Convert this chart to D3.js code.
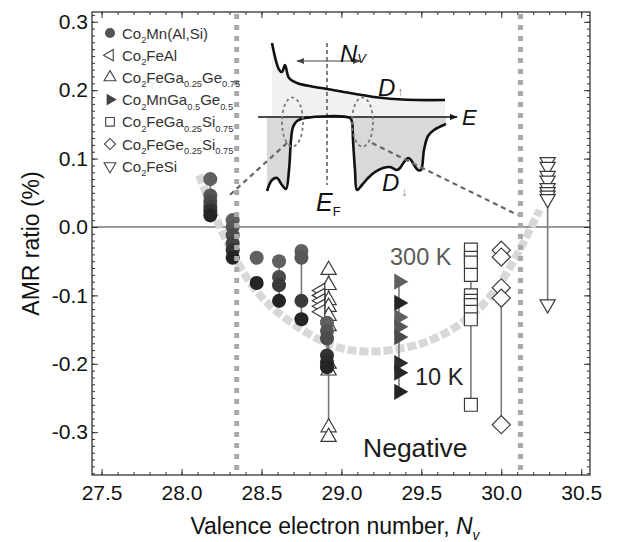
<!DOCTYPE html>
<html lang="en">
<head>
<meta charset="UTF-8">
<title>AMR ratio vs valence electron number</title>
<style>
  body { margin: 0; background: #fff; }
  svg { display: block; font-family: "Liberation Sans", Arial, sans-serif; }
</style>
</head>
<body>
<div id="chart"></div>
<script src="https://d3js.org/d3.v7.min.js"></script>
<script>
// ---- values ----
const xTicks = [27.5, 28.0, 28.5, 29.0, 29.5, 30.0, 30.5];
const yTicks = [-0.3, -0.2, -0.1, 0.0, 0.1, 0.2, 0.3];

const legendLabels = [
  "Co_{2}Mn(Al,Si)", "Co_{2}FeAl", "Co_{2}FeGa_{0.25}Ge_{0.75}", "Co_{2}MnGa_{0.5}Ge_{0.5}",
  "Co_{2}FeGa_{0.25}Si_{0.75}", "Co_{2}FeGe_{0.25}Si_{0.75}", "Co_{2}FeSi"
];

// Co2Mn(Al,Si): one column per sample, 300 K at top -> 10 K at bottom
const cmasX = [28.18, 28.32, 28.47, 28.47, 28.61, 28.75, 28.91];
const cmasAMR = [
  [0.07, 0.046, 0.038, 0.03, 0.024, 0.017],
  [0.01, 0.0, -0.012, -0.024, -0.034, -0.045],
  [-0.045],
  [-0.082],
  [-0.05, -0.073, -0.085, -0.108],
  [-0.035, -0.045, -0.108, -0.135],
  [-0.14, -0.152, -0.163, -0.188, -0.198, -0.205]
];
const cmasT = [
  [300, 250, 200, 150, 80, 10],
  [300, 250, 200, 150, 80, 10],
  [300],
  [10],
  [300, 200, 120, 10],
  [300, 250, 120, 10],
  [300, 250, 200, 80, 40, 10]
];

// Co2FeAl
const cfaX = [28.87];
const cfaAMR = [[-0.093, -0.1, -0.108, -0.116, -0.124]];

// Co2FeGa0.25Ge0.75
const cfggX = [28.92];
const cfggAMR = [[-0.063, -0.085, -0.107, -0.117, -0.13, -0.145, -0.2, -0.21, -0.293, -0.307]];

// Co2MnGa0.5Ge0.5
const cmggX = [29.36];
const cmggAMR = [[-0.08, -0.111, -0.132, -0.146, -0.161, -0.199, -0.213, -0.241]];
const cmggT = [[300, 10, 300, 250, 200, 50, 30, 10]];

// Co2FeGa0.25Si0.75
const cfgsX = [29.81];
const cfgsAMR = [[-0.033, -0.045, -0.052, -0.07, -0.1, -0.108, -0.114, -0.124, -0.135, -0.26]];

// Co2FeGe0.25Si0.75
const cfgesX = [30.0, 30.0];
const cfgesAMR = [[-0.034, -0.044], [-0.089, -0.104, -0.289]];

// Co2FeSi
const cfsX = [30.29];
const cfsAMR = [[0.095, 0.088, 0.075, 0.068, 0.057, 0.051, 0.046, 0.041, -0.113]];

// half-metal window boundaries and guide curve
const boundaryNv = [28.345, 30.12];
const guideNv  = [28.11, 28.27, 28.45, 28.63, 28.93, 29.15, 29.43, 29.61, 29.8, 29.97, 30.1, 30.24];
const guideAMR = [0.076, -0.015, -0.088, -0.13, -0.172, -0.182, -0.175, -0.16, -0.132, -0.09, -0.04, 0.025];

// inset: schematic density of states (energy relative to E_F, arbitrary units)
const upE = [-1.10, -0.96, -0.9, -0.84, -0.76, -0.6, -0.3, 0.0, 0.46, 1.12, 1.8, 2.36];
const upD = [2.96, 1.9, 1.8, 2.08, 1.56, 1.36, 1.22, 1.12, 0.96, 0.76, 0.68, 0.68];
const downE = [-1.2, -1.1, -1.0, -0.9, -0.82, -0.76, -0.72, -0.68, -0.6, -0.44, 0.46, 0.5, 0.52, 0.56, 0.6,
  0.7, 0.82, 0.96, 1.12, 1.26, 1.4, 1.46, 1.54, 1.62, 1.68, 1.74, 1.82, 1.88, 1.94, 2.02, 2.14, 2.38];
const downD = [-2.96, -2.52, -2.44, -2.72, -2.88, -2.12, -0.92, -0.4, -0.16, -0.04, -0.04, -0.2, -0.92, -2.12, -2.92,
  -2.72, -2.44, -2.2, -2.04, -2.0, -2.12, -2.04, -1.8, -1.64, -1.72, -1.92, -2.12, -2.12, -1.32, -0.76, -0.52, -0.28];

// ---- drawing ----
const W = 618, H = 542;
const plot = {left: 92, right: 590, top: 12, bottom: 475};

const svg = d3.select("#chart").append("svg").attr("width", W).attr("height", H);

const x = d3.scaleLinear().domain([27.44, 30.555]).range([plot.left, plot.right]);
const y = d3.scaleLinear().domain([-0.3626, 0.3143]).range([plot.bottom, plot.top]);
const shade = d3.scaleLinear().domain([10, 300]).range(["#242424", "#606060"]);

const defs = svg.append("defs");
defs.append("marker").attr("id", "arrowK")
  .attr("viewBox", "0 0 10 10").attr("refX", 9).attr("refY", 5)
  .attr("markerWidth", 6).attr("markerHeight", 6).attr("orient", "auto-start-reverse")
  .append("path").attr("d", "M0,1 L10,5 L0,9 Z").attr("fill", "#111");
defs.append("marker").attr("id", "arrowG")
  .attr("viewBox", "0 0 10 10").attr("refX", 9).attr("refY", 5)
  .attr("markerWidth", 7).attr("markerHeight", 7).attr("orient", "auto-start-reverse")
  .append("path").attr("d", "M0,1 L10,5 L0,9 Z").attr("fill", "#444");

// text with _{sub} parts
function richText(sel, str, size) {
  const parts = str.split(/(_\{[^}]*\})/).filter(p => p);
  let low = false;
  parts.forEach(p => {
    if (p.startsWith("_{")) {
      sel.append("tspan").attr("font-size", size * 0.62).attr("dy", low ? 0 : size * 0.3).text(p.slice(2, -1));
      low = true;
    } else {
      sel.append("tspan").attr("dy", low ? -size * 0.3 : 0).text(p);
      low = false;
    }
  });
}

// axes (ticks point inward, labels only bottom/left)
const minorX = d3.range(275, 306).map(d => d / 10);
const minorY = d3.range(-36, 32).map(d => d / 100);

function styleAxis(g) {
  g.select(".domain").remove();
  g.selectAll(".tick line").attr("stroke", "#333");
  g.selectAll("text").attr("font-size", 21).attr("fill", "#111")
    .attr("font-family", "'Liberation Sans', Arial, sans-serif");
}

svg.append("g").attr("transform", `translate(0,${plot.bottom})`)
  .call(d3.axisBottom(x).tickValues(minorX).tickSize(-3).tickFormat("")).call(styleAxis);
svg.append("g").attr("transform", `translate(0,${plot.bottom})`)
  .call(d3.axisBottom(x).tickValues(xTicks).tickSize(-6).tickPadding(10).tickFormat(d => d.toFixed(1)))
  .call(styleAxis);
svg.append("g").attr("transform", `translate(0,${plot.top})`)
  .call(d3.axisTop(x).tickValues(minorX).tickSize(-3).tickFormat("")).call(styleAxis);
svg.append("g").attr("transform", `translate(0,${plot.top})`)
  .call(d3.axisTop(x).tickValues(xTicks).tickSize(-6).tickFormat("")).call(styleAxis);

svg.append("g").attr("transform", `translate(${plot.left},0)`)
  .call(d3.axisLeft(y).tickValues(minorY).tickSize(-3).tickFormat("")).call(styleAxis);
svg.append("g").attr("transform", `translate(${plot.left},0)`)
  .call(d3.axisLeft(y).tickValues(yTicks).tickSize(-6).tickPadding(4).tickFormat(d => d.toFixed(1)))
  .call(styleAxis);
svg.append("g").attr("transform", `translate(${plot.right},0)`)
  .call(d3.axisRight(y).tickValues(minorY).tickSize(-3).tickFormat("")).call(styleAxis);
svg.append("g").attr("transform", `translate(${plot.right},0)`)
  .call(d3.axisRight(y).tickValues(yTicks).tickSize(-6).tickFormat("")).call(styleAxis);

svg.append("rect")
  .attr("x", plot.left).attr("y", plot.top)
  .attr("width", plot.right - plot.left).attr("height", plot.bottom - plot.top)
  .attr("fill", "none").attr("stroke", "#333").attr("stroke-width", 1.3);

// axis titles
svg.append("text")
  .attr("transform", `translate(39,${(plot.top + plot.bottom) / 2}) rotate(-90)`)
  .attr("text-anchor", "middle").attr("font-size", 23).attr("fill", "#111")
  .text("AMR ratio (%)");

const xTitle = svg.append("text")
  .attr("x", 335).attr("y", 534).attr("text-anchor", "middle")
  .attr("font-size", 23).attr("fill", "#111");
xTitle.append("tspan").text("Valence electron number, ");
xTitle.append("tspan").attr("font-style", "italic").text("N");
xTitle.append("tspan").attr("font-size", 14).attr("dy", 6).attr("font-style", "italic").text("v");

// zero line
svg.append("line")
  .attr("x1", plot.left).attr("x2", plot.right)
  .attr("y1", y(0)).attr("y2", y(0))
  .attr("stroke", "#333").attr("stroke-width", 1);

// guide curve
const guide = guideNv.map((d, i) => [d, guideAMR[i]]);
svg.append("path")
  .attr("d", d3.line().x(d => x(d[0])).y(d => y(d[1])).curve(d3.curveCatmullRom.alpha(0.5))(guide))
  .attr("fill", "none").attr("stroke", "#d8d8d8").attr("stroke-width", 8)
  .attr("stroke-dasharray", "9,3");

// data series
const series = [
  {kind: "up", xs: cfggX, vs: cfggAMR, size: 100},
  {kind: "left", xs: cfaX, vs: cfaAMR, size: 90},
  {kind: "square", xs: cfgsX, vs: cfgsAMR, size: 165},
  {kind: "diamond", xs: cfgesX, vs: cfgesAMR, size: 165},
  {kind: "down", xs: cfsX, vs: cfsAMR, size: 100},
  {kind: "right", xs: cmggX, vs: cmggAMR, ts: cmggT, size: 115},
  {kind: "circle", xs: cmasX, vs: cmasAMR, ts: cmasT, size: 155}
];

function symbolFor(kind, size) {
  if (kind === "circle") return {d: d3.symbol(d3.symbolCircle, size)(), rot: 0};
  if (kind === "square") return {d: d3.symbol(d3.symbolSquare, size)(), rot: 0};
  if (kind === "diamond") return {d: d3.symbol(d3.symbolSquare, size)(), rot: 45};
  const rot = {up: 0, right: 90, down: 180, left: -90}[kind];
  return {d: d3.symbol(d3.symbolTriangle, size)(), rot: rot};
}

const lineLayer = svg.append("g");
const markLayer = svg.append("g");

series.forEach(s => {
  s.xs.forEach((nv, i) => {
    const vals = s.vs[i];
    if (vals.length > 1) {
      lineLayer.append("line")
        .attr("x1", x(nv)).attr("x2", x(nv))
        .attr("y1", y(d3.max(vals))).attr("y2", y(d3.min(vals)))
        .attr("stroke", "#7a7a7a").attr("stroke-width", 1.6);
    }
  });
});

series.forEach(s => {
  const sym = symbolFor(s.kind, s.size);
  const pts = [];
  s.xs.forEach((nv, i) => s.vs[i].forEach((v, j) => pts.push({nv: nv, v: v, t: s.ts ? s.ts[i][j] : null})));
  const filled = !!s.ts;
  markLayer.append("g").selectAll("path").data(pts).join("path")
    .attr("d", sym.d)
    .attr("transform", d => `translate(${x(d.nv)},${y(d.v)}) rotate(${sym.rot})`)
    .attr("fill", d => filled ? shade(d.t) : "#fff")
    .attr("stroke", filled ? "none" : "#3a3a3a")
    .attr("stroke-width", 1.2);
});

// boundary lines drawn over the markers
svg.append("g").selectAll("line").data(boundaryNv).join("line")
  .attr("x1", d => x(d)).attr("x2", d => x(d))
  .attr("y1", plot.top + 2).attr("y2", plot.bottom - 2)
  .attr("stroke", "#a9a9a9").attr("stroke-width", 5)
  .attr("stroke-dasharray", "5,6");

// annotations
svg.append("text").attr("x", 390).attr("y", 265).attr("font-size", 23.5).attr("fill", "#5a5a5a").text("300 K");
svg.append("text").attr("x", 415).attr("y", 385).attr("font-size", 23.5).attr("fill", "#222").text("10 K");
svg.append("text").attr("x", 363).attr("y", 457).attr("font-size", 26.5).attr("fill", "#1a1a1a").text("Negative");

// legend
const legendKinds = ["circle", "left", "up", "right", "square", "diamond", "down"];
const legendSizes = {circle: 80, left: 55, up: 60, right: 60, square: 75, diamond: 60, down: 60};
const legend = svg.append("g").attr("transform", "translate(110,33)");
legendLabels.forEach((lab, i) => {
  const k = legendKinds[i];
  const sym = symbolFor(k, legendSizes[k]);
  const row = legend.append("g").attr("transform", `translate(0,${i * 22.2})`);
  row.append("path").attr("d", sym.d)
    .attr("transform", `rotate(${sym.rot})`)
    .attr("fill", k === "circle" ? "#555" : k === "right" ? "#444" : "#fff")
    .attr("stroke", (k === "circle" || k === "right") ? "none" : "#444")
    .attr("stroke-width", 1.1);
  const t = row.append("text").attr("x", 12).attr("y", 5.5).attr("font-size", 15).attr("fill", "#333");
  richText(t, lab, 15);
});

// inset: DOS schematic
const eS = d3.scaleLinear().domain([-1, 1]).range([277, 377]);
const dS = d3.scaleLinear().domain([-1, 1]).range([142, 92]);
const inset = svg.append("g");
const up = upE.map((e, i) => [e, upD[i]]);
const down = downE.map((e, i) => [e, downD[i]]);
const curve = d3.curveCatmullRom.alpha(0.5);

inset.append("path")
  .attr("d", d3.area().x(d => eS(d[0])).y0(dS(0)).y1(d => dS(d[1])).curve(curve)(up))
  .attr("fill", "#f1f1f1");
inset.append("path")
  .attr("d", d3.area().x(d => eS(d[0])).y0(dS(0)).y1(d => dS(d[1])).curve(curve)(down))
  .attr("fill", "#d9d9d9");

inset.append("line")
  .attr("x1", eS(-1.38)).attr("x2", eS(2.6)).attr("y1", dS(0)).attr("y2", dS(0))
  .attr("stroke", "#111").attr("stroke-width", 1.3).attr("marker-end", "url(#arrowK)");
inset.append("line")
  .attr("x1", eS(0)).attr("x2", eS(0)).attr("y1", dS(2.96)).attr("y2", dS(-2.72))
  .attr("stroke", "#555").attr("stroke-width", 1.5).attr("stroke-dasharray", "4,3");

inset.append("path")
  .attr("d", d3.line().x(d => eS(d[0])).y(d => dS(d[1])).curve(curve)(up))
  .attr("fill", "none").attr("stroke", "#111").attr("stroke-width", 2.6);
inset.append("path")
  .attr("d", d3.line().x(d => eS(d[0])).y(d => dS(d[1])).curve(curve)(down))
  .attr("fill", "none").attr("stroke", "#111").attr("stroke-width", 2.6);

// N_V arrow
inset.append("line")
  .attr("x1", eS(-0.6)).attr("x2", eS(0.66)).attr("y1", dS(2.24)).attr("y2", dS(2.24))
  .attr("stroke", "#444").attr("stroke-width", 1.1)
  .attr("marker-start", "url(#arrowG)").attr("marker-end", "url(#arrowG)");

// highlighted band edges
[[-0.69, -0.2], [0.71, -0.2]].forEach(c => {
  inset.append("ellipse")
    .attr("cx", eS(c[0])).attr("cy", dS(c[1]))
    .attr("rx", 10.5).attr("ry", 24.5)
    .attr("fill", "none").attr("stroke", "#777").attr("stroke-width", 1.8)
    .attr("stroke-dasharray", "3,3");
});

// links from the inset to the boundaries
const links = [[[-0.8, -1.04], [28.289, 0.044]], [[0.9, -1.04], [30.102, 0.0175]]];
links.forEach(l => {
  svg.append("line")
    .attr("x1", eS(l[0][0])).attr("y1", dS(l[0][1]))
    .attr("x2", x(l[1][0])).attr("y2", y(l[1][1]))
    .attr("stroke", "#666").attr("stroke-width", 2.2).attr("stroke-dasharray", "5,4");
});

// inset labels
const nv = inset.append("text").attr("x", 340).attr("y", 62).attr("font-size", 24).attr("fill", "#111");
nv.append("tspan").attr("font-style", "italic").text("N");
nv.append("tspan").attr("font-size", 13).attr("dy", 1).attr("font-style", "italic").text("V");

const du = inset.append("text").attr("x", 378).attr("y", 96).attr("font-size", 24).attr("fill", "#111");
du.append("tspan").attr("font-style", "italic").text("D");
du.append("tspan").attr("font-size", 12).attr("fill", "#777").attr("dx", 2).text("↑");

const dd = inset.append("text").attr("x", 382).attr("y", 191).attr("font-size", 24).attr("fill", "#111");
dd.append("tspan").attr("font-style", "italic").text("D");
dd.append("tspan").attr("font-size", 12).attr("fill", "#777").attr("dx", 2).attr("dy", 5).text("↓");

inset.append("text").attr("x", 462).attr("y", 125).attr("font-size", 22)
  .attr("font-style", "italic").attr("fill", "#111").text("E");

const ef = inset.append("text").attr("x", 316).attr("y", 211).attr("font-size", 25).attr("fill", "#111");
ef.append("tspan").attr("font-style", "italic").text("E");
ef.append("tspan").attr("font-size", 13).attr("dy", 5).text("F");
</script>
</body>
</html>
